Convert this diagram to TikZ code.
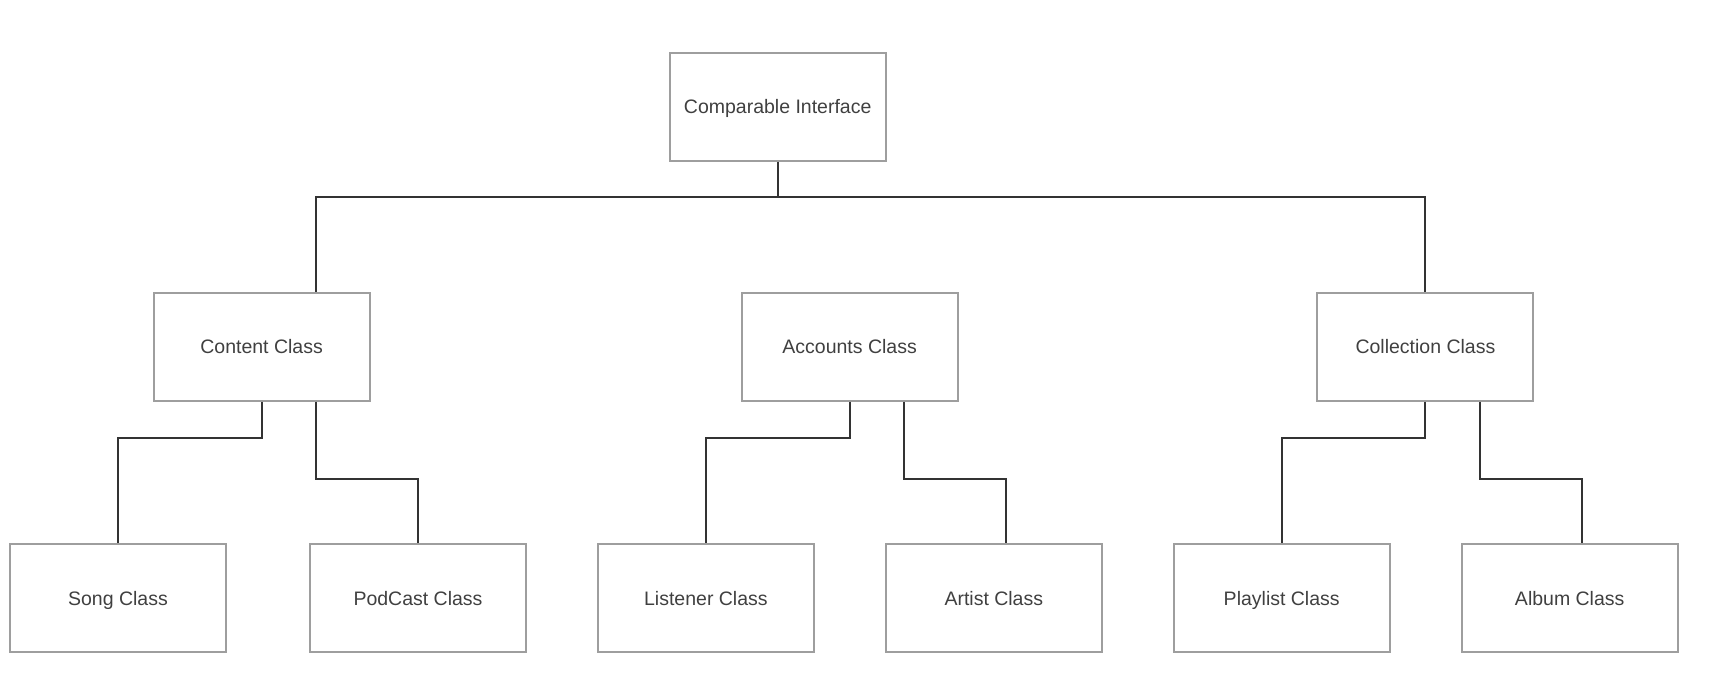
\documentclass[tikz,border=0pt]{standalone}
\usepackage{fontspec}
\setmainfont{Liberation Sans}
\usetikzlibrary{calc}
\definecolor{boxgray}{HTML}{9E9E9E}
\definecolor{linedark}{HTML}{333333}
\definecolor{textdark}{HTML}{404040}
\tikzset{
  classbox/.style={draw=boxgray, line width=2pt, minimum width=216pt, minimum height=108pt, inner sep=0pt, text height=14pt, text depth=0pt, text=textdark, font=\fontsize{19.5}{23}\selectfont},
  conn/.style={draw=linedark, line width=2pt}
}
\begin{document}
\begin{tikzpicture}[x=1pt,y=-1pt]
\useasboundingbox[fill=white] (0,0) rectangle (1720,687);
\node[classbox] (comp) at (777.7,106.8) {Comparable Interface};
\node[classbox] (content) at (261.6,346.6) {Content Class};
\node[classbox] (accounts) at (849.6,346.6) {Accounts Class};
\node[classbox] (coll) at (1425.4,346.6) {Collection Class};
\node[classbox] (song) at (118,598.4) {Song Class};
\node[classbox] (podcast) at (418,598.4) {PodCast Class};
\node[classbox] (listener) at (705.9,598.4) {Listener Class};
\node[classbox] (artist) at (993.8,598.4) {Artist Class};
\node[classbox] (playlist) at (1281.7,598.4) {Playlist Class};
\node[classbox] (album) at (1569.7,598.4) {Album Class};
\coordinate (bus) at (777.7,197.4);
\draw[conn] (comp.south) -- (bus) -| ($(content.north)+(54.3,0)$);
\draw[conn] (bus) -| (coll.north);
\draw[conn] (content.south) -- ++(0,36.2) -| (song.north);
\draw[conn] ($(content.south)+(54.3,0)$) -- ++(0,77.8) -| (podcast.north);
\draw[conn] (accounts.south) -- ++(0,36.2) -| (listener.north);
\draw[conn] ($(accounts.south)+(54.3,0)$) -- ++(0,77.8) -| ($(artist.north)+(12,0)$);
\draw[conn] (coll.south) -- ++(0,36.2) -| (playlist.north);
\draw[conn] ($(coll.south)+(54.3,0)$) -- ++(0,77.8) -| ($(album.north)+(12,0)$);
\end{tikzpicture}
\end{document}
